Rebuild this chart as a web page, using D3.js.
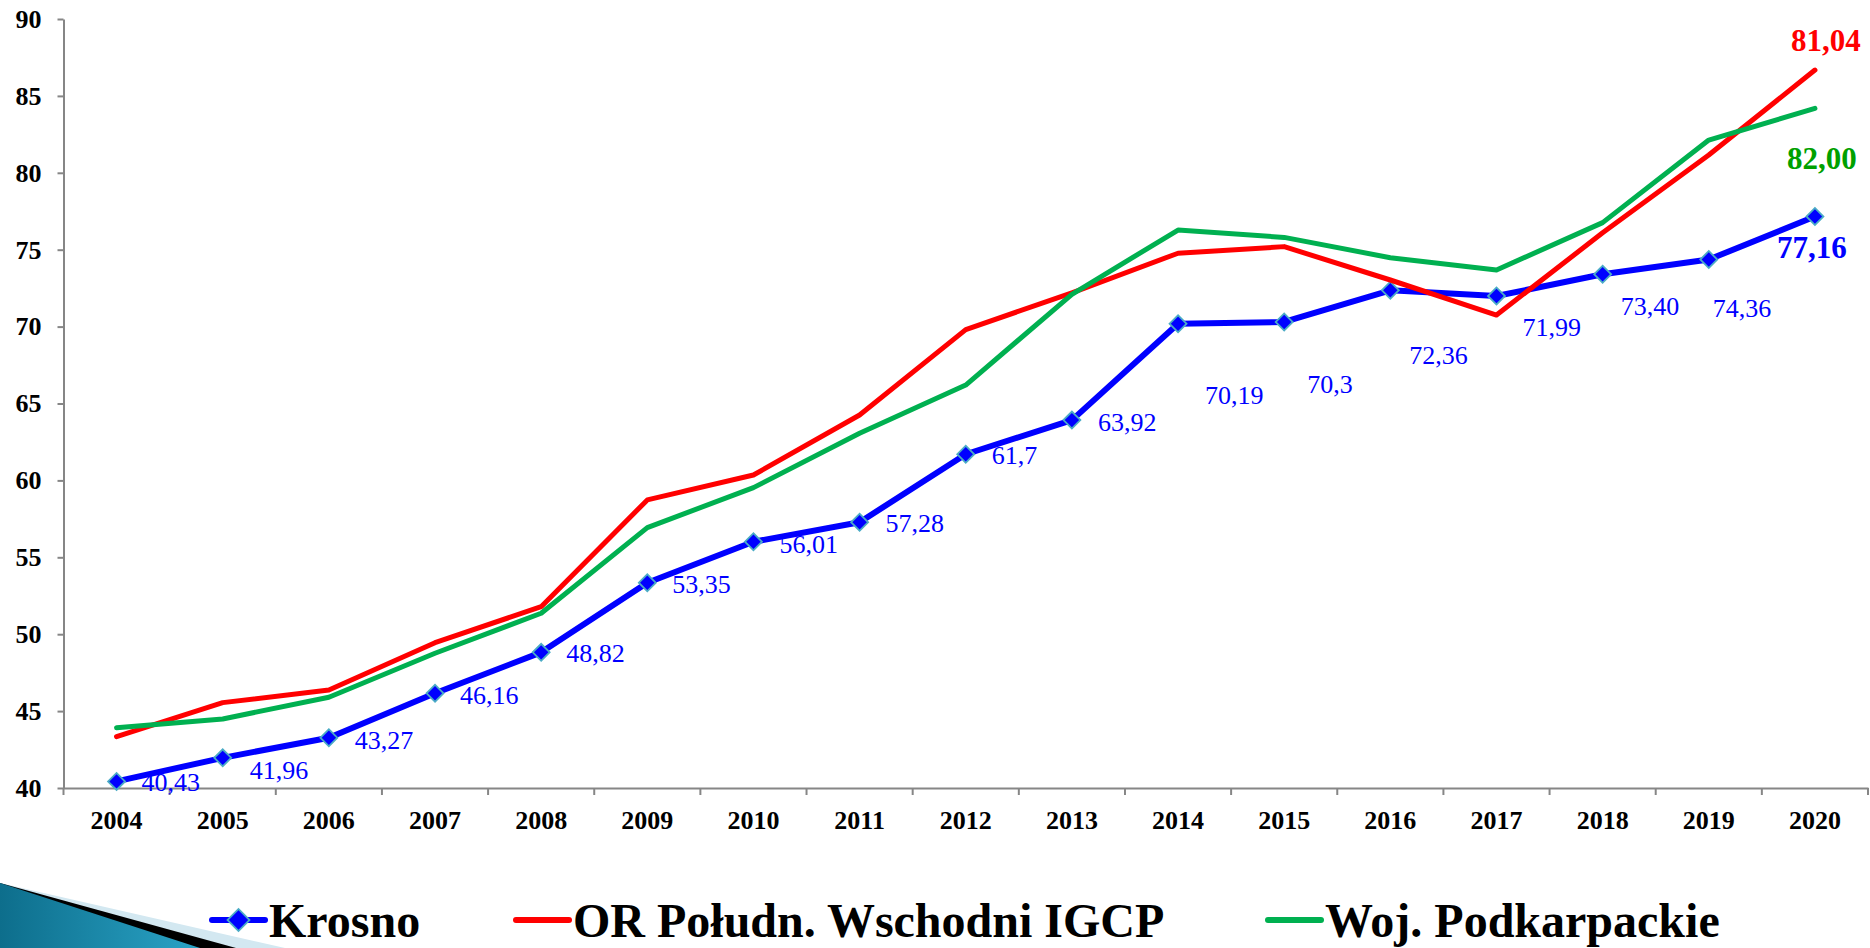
<!DOCTYPE html>
<html>
<head>
<meta charset="utf-8">
<script src="https://cdn.jsdelivr.net/npm/d3@7"></script>
<style>
  html, body { margin: 0; padding: 0; background: #fff; }
  svg { display: block; font-family: "Times New Roman", "Liberation Serif", serif; }
</style>
</head>
<body>
<div id="chart"></div>
<script>
const years = ['2004','2005','2006','2007','2008','2009','2010','2011','2012','2013','2014','2015','2016','2017','2018','2019','2020'];
const krosno = [40.43, 41.96, 43.27, 46.16, 48.82, 53.35, 56.01, 57.28, 61.7, 63.92, 70.19, 70.3, 72.36, 71.99, 73.40, 74.36, 77.16];
const krosnoLabels = ['40,43','41,96','43,27','46,16','48,82','53,35','56,01','57,28','61,7','63,92','70,19','70,3','72,36','71,99','73,40','74,36','77,16'];
const orPoludnWsch = [43.34, 45.55, 46.37, 49.45, 51.79, 58.73, 60.35, 64.25, 69.8, 72.2, 74.77, 75.2, 73.03, 70.75, 76.1, 81.16, 86.68];
const wojPodkarp = [43.92, 44.49, 45.9, 48.76, 51.36, 56.93, 59.53, 63.06, 66.2, 72.1, 76.28, 75.8, 74.48, 73.68, 76.76, 82.13, 84.19];
const yTicks = [40, 45, 50, 55, 60, 65, 70, 75, 80, 85, 90];
const seriesNames = ['Krosno', 'OR Połudn. Wschodni IGCP', 'Woj. Podkarpackie'];
const endLabels = ['77,16', '81,04', '82,00'];

// label placement next to each Krosno point: [dx, dy]
const labelOffsets = [[25,1],[27,12],[26,2],[25,2],[25,1],[25,1],[26,2],[26,1],[26,1],[26,2],[27,71],[23,62],[19,65],[26,31],[18,32],[4,48],[-38,31]];

const W = 1870, H = 948;
const svg = d3.select('#chart').append('svg')
  .attr('width', W)
  .attr('height', H);

// slide decoration, bottom left
const defs = svg.append('defs');
const grad = defs.append('linearGradient').attr('id', 'deco').attr('x1', 0).attr('y1', 0).attr('x2', 1).attr('y2', 0);
grad.append('stop').attr('offset', '0%').attr('stop-color', '#0d6e8c');
grad.append('stop').attr('offset', '100%').attr('stop-color', '#2aa3c6');
svg.append('polygon').attr('points', '0,883 285,948 0,948').attr('fill', '#d3e8f1');
svg.append('polygon').attr('points', '0,883 236,948 0,948').attr('fill', '#000');
svg.append('polygon').attr('points', '0,883 200,948 0,948').attr('fill', 'url(#deco)');

const x = d3.scaleBand().domain(years).range([63.5, 1868]);
const y = d3.scaleLinear().domain([40, 90]).range([788, 19]);
const cx = d => x(d) + x.bandwidth() / 2;

const axisColor = '#868686';

// y axis
const yAxis = svg.append('g')
  .attr('transform', 'translate(63.5,0)')
  .call(d3.axisLeft(y).tickValues(yTicks).tickSize(6).tickSizeOuter(0).tickPadding(16));
yAxis.select('.domain').attr('stroke', axisColor).attr('stroke-width', 2);
yAxis.selectAll('.tick line').attr('stroke', axisColor).attr('stroke-width', 2);
yAxis.selectAll('.tick text')
  .attr('fill', '#000')
  .style('font-size', '26px')
  .style('font-weight', 'bold')
  .style('font-family', '"Times New Roman", "Liberation Serif", serif');

// x axis
const xAxis = svg.append('g')
  .attr('transform', 'translate(0,788)')
  .call(d3.axisBottom(x).tickSize(0).tickSizeOuter(0).tickPadding(23));
xAxis.select('.domain').attr('stroke', axisColor).attr('stroke-width', 2);
xAxis.selectAll('.tick text')
  .attr('fill', '#000')
  .style('font-size', '26px')
  .style('font-weight', 'bold')
  .style('font-family', '"Times New Roman", "Liberation Serif", serif');
xAxis.selectAll('line.bound')
  .data(years.map(d => x(d)).concat([x.range()[1]]))
  .enter()
  .append('line')
  .attr('class', 'bound')
  .attr('x1', d => d).attr('x2', d => d)
  .attr('y1', 0).attr('y2', 7)
  .attr('stroke', axisColor)
  .attr('stroke-width', 2);

const line = d3.line()
  .x((d, i) => cx(years[i]))
  .y(d => y(d));

const series = [
  { name: seriesNames[0], values: krosno, color: '#0000ff', width: 6 },
  { name: seriesNames[1], values: orPoludnWsch, color: '#ff0000', width: 5 },
  { name: seriesNames[2], values: wojPodkarp, color: '#00b050', width: 5 }
];

const diamond = d3.symbol().type(d3.symbolSquare).size(144);
const diamondBig = d3.symbol().type(d3.symbolSquare).size(240);

series.forEach(function (s, k) {
  svg.append('path')
    .datum(s.values)
    .attr('fill', 'none')
    .attr('stroke', s.color)
    .attr('stroke-width', s.width)
    .attr('stroke-linejoin', 'round')
    .attr('stroke-linecap', 'round')
    .attr('d', line);
  if (k === 0) {
    svg.selectAll('path.mark')
      .data(s.values)
      .enter()
      .append('path')
      .attr('class', 'mark')
      .attr('d', diamond)
      .attr('transform', (d, i) => 'translate(' + cx(years[i]) + ',' + y(d) + ') rotate(45)')
      .attr('fill', '#0000ff')
      .attr('stroke', '#4bacc6')
      .attr('stroke-width', 1.8);
  }
});

// Krosno data labels
svg.selectAll('text.lbl')
  .data(krosno)
  .enter()
  .append('text')
  .attr('class', 'lbl')
  .attr('x', (d, i) => cx(years[i]) + labelOffsets[i][0])
  .attr('y', (d, i) => y(d) + labelOffsets[i][1])
  .attr('dy', '0.35em')
  .attr('fill', '#0000ff')
  .style('font-size', (d, i) => i === krosno.length - 1 ? '31px' : '26px')
  .style('font-weight', (d, i) => i === krosno.length - 1 ? 'bold' : 'normal')
  .text((d, i) => krosnoLabels[i]);

// end labels for the other two series
const last = years[years.length - 1];
svg.append('text')
  .attr('x', cx(last) + 11)
  .attr('y', 40)
  .attr('dy', '0.35em')
  .attr('text-anchor', 'middle')
  .attr('fill', '#ff0000')
  .style('font-size', '31px')
  .style('font-weight', 'bold')
  .text(endLabels[1]);
svg.append('text')
  .attr('x', cx(last) + 7)
  .attr('y', 158)
  .attr('dy', '0.35em')
  .attr('text-anchor', 'middle')
  .attr('fill', '#00a000')
  .style('font-size', '31px')
  .style('font-weight', 'bold')
  .text(endLabels[2]);

// legend
const legendX = [212, 516, 1268];
const legend = svg.append('g').attr('transform', 'translate(0,920)');
series.forEach(function (s, k) {
  const g = legend.append('g').attr('transform', 'translate(' + legendX[k] + ',0)');
  g.append('line')
    .attr('x1', 0).attr('x2', 53)
    .attr('y1', 0).attr('y2', 0)
    .attr('stroke', s.color)
    .attr('stroke-width', 6)
    .attr('stroke-linecap', 'round');
  if (k === 0) {
    g.append('path')
      .attr('d', diamondBig)
      .attr('transform', 'translate(26.5,0) rotate(45)')
      .attr('fill', '#0000ff')
      .attr('stroke', '#4bacc6')
      .attr('stroke-width', 1.8);
  }
  g.append('text')
    .attr('x', 57)
    .attr('y', 0)
    .attr('dy', '0.35em')
    .attr('fill', '#000')
    .style('font-size', '48px')
    .style('font-weight', 'bold')
    .text(s.name);
});
</script>
</body>
</html>
